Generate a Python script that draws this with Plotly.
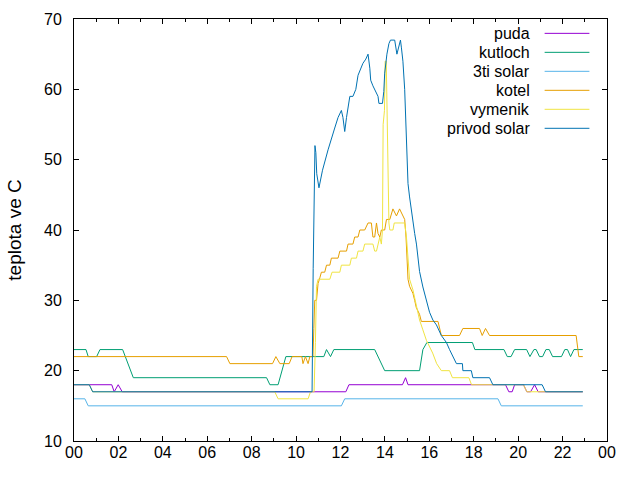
import plotly.graph_objects as go

# ---- data (time in decimal hours, temperature in deg C) ----
series_names = ["puda", "kutloch", "3ti solar", "kotel", "vymenik", "privod solar"]
series_colors = ["#9400d3", "#009e73", "#56b4e9", "#e69f00", "#f0e442", "#0072b2"]

puda_t = [0, 1.70, 1.81, 1.99, 2.17, 12.24, 12.38, 14.79, 14.93, 15.04, 19.43, 19.58,
          19.73, 19.84, 20.24, 20.39, 20.56, 20.74, 20.90, 22.91]
puda_v = [18, 18, 17, 18, 17, 17, 18, 18, 19, 18, 18, 17, 17, 18, 18, 17, 17, 18, 17, 17]

kutloch_t = [0, 0.54, 0.64, 1.02, 1.17, 2.19, 2.67, 8.67, 8.82, 9.19, 9.54, 11.25, 11.37,
             11.55, 11.70, 13.54, 13.99, 15.56, 15.71, 15.89, 17.94, 18.05, 19.36, 19.51,
             19.68, 19.84, 20.38, 20.53, 20.71, 20.81, 20.96, 21.10, 21.25, 21.40, 21.55,
             21.95, 22.10, 22.22, 22.36, 22.51, 22.91]
kutloch_v = [23, 23, 22, 22, 23, 23, 19, 19, 18, 18, 22, 22, 23, 22, 23, 23, 20, 20, 23, 24,
             24, 23, 23, 22, 22, 23, 23, 22, 23, 23, 22, 22, 23, 23, 22, 22, 23, 23, 22, 23, 23]

solar3_t = [0, 0.49, 0.64, 12.04, 12.19, 19.09, 19.24, 22.91]
solar3_v = [16, 16, 15, 15, 16, 16, 15, 15]

kotel_t = [0, 6.87, 7.02, 8.94, 9.09, 9.27, 9.69, 9.82, 10.26, 10.31, 10.42, 10.54, 10.62,
           10.76, 10.80, 10.84, 10.92, 10.99, 11.07, 11.14, 11.29, 11.37, 11.52, 11.59,
           11.89, 11.97, 12.27, 12.34, 12.56, 12.64, 12.79, 12.87, 13.09, 13.24, 13.39,
           13.46, 13.54, 13.62, 13.69, 13.77, 13.84, 13.99, 14.07, 14.22, 14.36, 14.52,
           14.66, 14.81, 14.89, 14.95, 14.99, 15.04, 15.11, 15.26, 15.34, 15.41, 15.56,
           15.64, 16.39, 16.54, 17.36, 17.51, 18.26, 18.38, 18.53, 18.71, 22.61, 22.73, 22.91]
kotel_v = [22, 22, 21, 21, 22, 21, 21, 22, 22, 21, 22, 21, 22, 22, 26, 30, 30, 32.4, 33.2,
           34, 34, 35, 35, 36, 36, 37, 37, 38, 38, 39, 39, 40, 40, 41, 41, 39, 39, 41, 39.5,
           39, 40, 40, 41.5, 41.5, 43, 42, 43, 42, 41.5, 39, 35, 33, 32, 31, 30, 29, 28, 27,
           27, 25, 25, 26, 26, 25, 26, 25, 25, 22, 22]

vymenik_t = [0, 0.69, 0.84, 9.04, 9.19, 10.54, 10.65, 10.81, 10.87, 10.92, 10.99, 11.52,
             11.62, 11.97, 12.04, 12.42, 12.49, 12.72, 12.79, 13.01, 13.09, 13.46, 13.54,
             13.62, 13.77, 13.84, 13.89, 13.92, 13.98, 14.01, 14.06, 14.10, 14.14, 14.18,
             14.22, 14.36, 14.42, 14.89, 14.97, 15.04, 15.11, 15.26, 15.42, 15.56, 15.71,
             15.87, 16.15, 16.33, 16.54, 16.91, 17.04, 17.78, 17.90, 20.24, 20.39, 22.91]
vymenik_v = [18, 18, 17, 17, 16, 16, 17, 17, 24, 32, 33, 33, 34, 34, 35, 35, 36, 36, 37, 37,
             38, 38, 37, 37, 39, 38, 40, 55, 57, 64, 64, 55, 46, 41, 40, 40, 41, 41, 39, 36,
             33, 31.5, 29, 27.2, 25.8, 24.3, 22.5, 21, 20, 20, 19, 19, 18, 18, 17, 17]

privod_t = [0, 0.69, 0.84, 10.72, 10.77, 10.81, 10.85, 10.89, 10.93, 11.03, 11.19, 11.44,
            11.59, 11.74, 11.89, 12.04, 12.11, 12.19, 12.27, 12.34, 12.42, 12.56, 12.69,
            12.79, 12.90, 13.01, 13.14, 13.24, 13.32, 13.36, 13.46, 13.59, 13.69, 13.73,
            13.89, 13.95, 13.99, 14.09, 14.18, 14.25, 14.44, 14.54, 14.63, 14.70, 14.74,
            14.81, 14.89, 14.97, 15.04, 15.11, 15.19, 15.26, 15.34, 15.42, 15.49, 15.56,
            15.71, 15.87, 16.01, 16.16, 16.32, 16.54, 16.77, 16.91, 17.06, 17.22, 17.49,
            17.51, 17.89, 17.96, 18.71, 18.86, 21.08, 21.23, 22.91]
privod_v = [18, 18, 17, 17, 34.5, 46, 52, 51, 48, 46, 48.5, 51.4, 52.8, 54.5, 56, 57, 56, 54,
            56, 57.6, 59, 59, 60, 62, 63, 63.7, 64.3, 65, 63, 61.3, 60.5, 59.7, 59, 58, 58,
            59.7, 62.3, 65, 66.5, 67, 67, 65, 66, 67, 66, 64, 60, 53, 46.6, 44.7, 42.6, 41,
            39.5, 38, 36.3, 34.1, 31.9, 30, 28.3, 27.2, 26.5, 25, 24, 23, 22, 21, 21, 20, 20,
            19, 19, 18, 18, 17, 17]

x_tickvals = list(range(0, 25, 2))
x_ticktext = ["00", "02", "04", "06", "08", "10", "12", "14", "16", "18", "20", "22", "00"]
y_tickvals = [10, 20, 30, 40, 50, 60, 70]
y_title = "teplota ve C"

all_t = [puda_t, kutloch_t, solar3_t, kotel_t, vymenik_t, privod_t]
all_v = [puda_v, kutloch_v, solar3_v, kotel_v, vymenik_v, privod_v]

FONT = "Liberation Sans, Arial, sans-serif"

fig = go.Figure()
for name, color, t, v in zip(series_names, series_colors, all_t, all_v):
    fig.add_trace(go.Scatter(x=t, y=v, mode="lines", name=name,
                             line=dict(color=color, width=1), showlegend=False))

# gnuplot-style key: text right-aligned, line sample on its right
key_text_x = 0.8585
key_line_x0, key_line_x1 = 0.883, 0.967
key_top, key_step = 0.966, 0.045
for i, (name, color) in enumerate(zip(series_names, series_colors)):
    yy = key_top - i * key_step
    fig.add_annotation(x=key_text_x, y=yy, xref="paper", yref="paper", text=name,
                       showarrow=False, xanchor="right", yanchor="middle",
                       font=dict(family=FONT, size=16, color="black"))
    fig.add_shape(type="line", xref="paper", yref="paper", x0=key_line_x0, x1=key_line_x1,
                  y0=yy, y1=yy, line=dict(color=color, width=1))

fig.update_layout(
    width=640, height=480,
    margin=dict(l=74, r=33, t=19, b=39),
    paper_bgcolor="white", plot_bgcolor="white",
    font=dict(family=FONT, size=16, color="black"),
    xaxis=dict(range=[0, 24], tickmode="array", tickvals=x_tickvals, ticktext=x_ticktext,
               ticks="inside", ticklen=5, tickcolor="black", showline=True,
               linecolor="black", linewidth=1, mirror="allticks", showgrid=False,
               zeroline=False, ticklabelstandoff=-3,
               minor=dict(tickmode="linear", tick0=0, dtick=1, ticks="inside", ticklen=3,
                          tickcolor="black", showgrid=False)),
    yaxis=dict(range=[10, 70], tickmode="array", tickvals=y_tickvals,
               ticks="inside", ticklen=5, tickcolor="black", showline=True,
               linecolor="black", linewidth=1, mirror="allticks", showgrid=False,
               zeroline=False, ticklabelstandoff=8,
               title=dict(text=y_title, standoff=17)),
)

fig.write_html("out.html")
